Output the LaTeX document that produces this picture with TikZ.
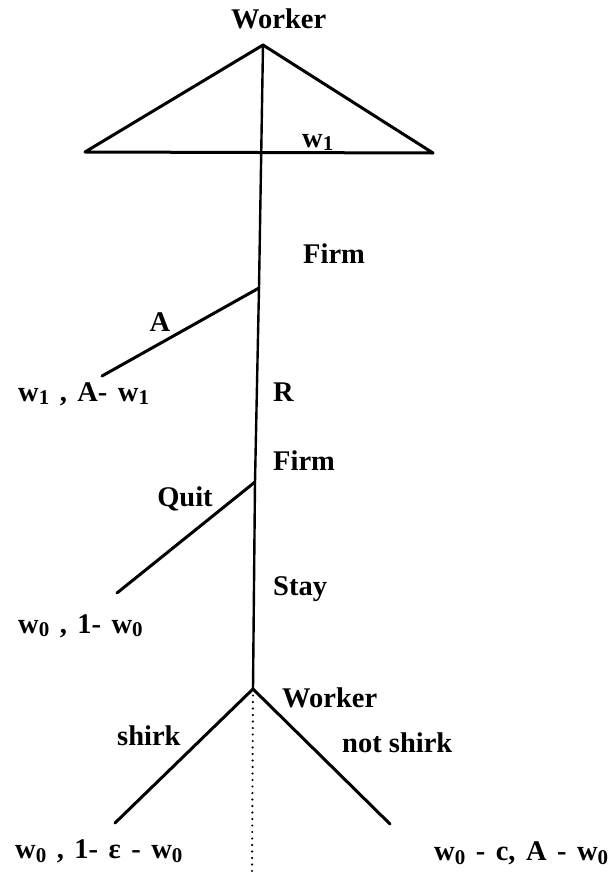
\documentclass[tikz,border=0pt]{standalone}
\usepackage{fontspec}
\setmainfont{Liberation Serif}
\newcommand{\lowix}[1]{\raisebox{-0.14em}{\fontsize{21}{21}\selectfont #1}}
\newcommand{\widesp}{\spaceskip=10.5pt plus 0pt minus 0pt\relax}
\begin{document}
\begin{tikzpicture}[x=1pt,y=-1pt,
  lbl/.style={inner sep=0pt,anchor=base west,font=\bfseries\fontsize{28.5}{32}\selectfont},
  pay/.style={lbl,execute at begin node=\widesp},
  branch/.style={line width=3pt,line cap=round,line join=round},
  trunk/.style={line width=2.4pt},
  info/.style={line width=2.4pt,line cap=round,dash pattern=on 0pt off 6.5pt}]
\useasboundingbox (0,0) rectangle (616,876);
% points
\coordinate (top) at (263,45);
\coordinate (tl) at (85,152);
\coordinate (tr) at (433,153);
\coordinate (firm1) at (259,288);
\coordinate (aend) at (102,376);
\coordinate (firm2) at (255,482);
\coordinate (qend) at (117,593);
\coordinate (wnode) at (253,689);
\coordinate (send) at (115,823);
\coordinate (nsend) at (390,824);
\coordinate (dend) at (252,876);
% triangle
\draw[branch] (tl) -- (top) -- (tr) -- cycle;
% trunk
\draw[trunk] (top) -- (firm1) -- (firm2) -- (wnode);
\draw[branch] (firm1) -- (aend);
\draw[branch] (firm2) -- (qend);
\draw[branch] (send) -- (wnode) -- (nsend);
\draw[info] (wnode) -- (dend);
% labels
\node[lbl] (lw1) at (231,28) {Worker};
\node[lbl] (lwone) at (302,147) {w\lowix{1}};
\node[lbl] (lfirm1) at (303,263) {Firm};
\node[lbl,anchor=base] (lA) at (160,331) {A};
\node[pay] (pay1) at (18,401) {w\lowix{1} , A- w\lowix{1}};
\node[lbl] (lR) at (273,401) {R};
\node[lbl] (lfirm2) at (273,470) {Firm};
\node[lbl,anchor=base] (lquit) at (185,506) {Quit};
\node[pay] (pay2) at (18,633) {w\lowix{0} , 1- w\lowix{0}};
\node[lbl] (lstay) at (273,595) {Stay};
\node[lbl] (lw2) at (282,707) {Worker};
\node[lbl] (lshirk) at (117,745) {shirk};
\node[lbl] (lnshirk) at (342,752) {not shirk};
\node[pay] (pay3) at (15,858) {w\lowix{0} , 1- ε - w\lowix{0}};
\node[pay] (pay4) at (434,860) {w\lowix{0} - c, A - w\lowix{0}};
\end{tikzpicture}
\end{document}
